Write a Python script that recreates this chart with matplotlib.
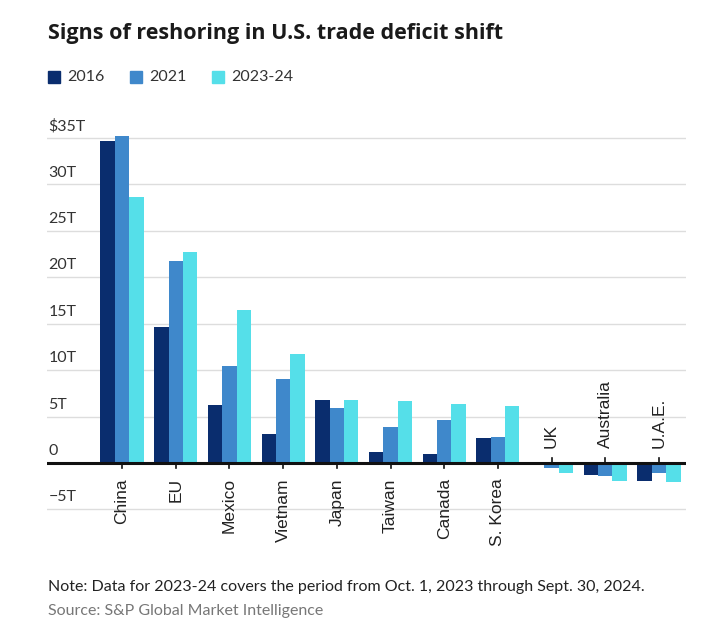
import matplotlib
matplotlib.use("Agg")
import matplotlib.pyplot as plt
import numpy as np

categories = ["China", "EU", "Mexico", "Vietnam", "Japan", "Taiwan", "Canada",
              "S. Korea", "UK", "Australia", "U.A.E."]
vals_2016 = [34.7, 14.6, 6.2, 3.1, 6.8, 1.2, 1.0, 2.7, 0.0, -1.3, -2.0]
vals_2021 = [35.2, 21.7, 10.4, 9.0, 5.9, 3.9, 4.6, 2.8, -0.6, -1.4, -1.1]
vals_2324 = [28.6, 22.7, 16.5, 11.7, 6.8, 6.7, 6.4, 6.1, -1.1, -2.0, -2.1]
series_names = ["2016", "2021", "2023-24"]
y_ticks = [-5, 0, 5, 10, 15, 20, 25, 30, 35]
y_tick_labels = ["\u22125T", "0", "5T", "10T", "15T", "20T", "25T", "30T", "$35T"]

colors = ["#0a2d6e", "#3f88cb", "#55dfe9"]
txt = "#222222"
plt.rcParams["font.family"] = ["Lato", "DejaVu Sans"]

fig = plt.figure(figsize=(7.21, 6.37), dpi=100)
ax = fig.add_axes([47 / 721, 0.1931, 639 / 721, 0.6122])

x = np.arange(len(categories))
w = 0.268
for i, (vals, name) in enumerate(zip([vals_2016, vals_2021, vals_2324], series_names)):
    ax.bar(x + (i - 1) * w, vals, width=w, color=colors[i], zorder=2)

# gridlines + y labels
for v, lab in zip(y_ticks, y_tick_labels):
    if v == 0:
        ax.axhline(0, color="#111111", lw=2.2, zorder=3)
    else:
        ax.axhline(v, color="#dddddd", lw=1, zorder=1)
    ax.annotate(lab, xy=(0, v), xycoords=("axes fraction", "data"),
                xytext=(1, 3.5), textcoords="offset points",
                ha="left", va="bottom", fontsize=11.5, color="#333333")

# category labels and ticks
for xi, c, a, b, d in zip(x, categories, vals_2016, vals_2021, vals_2324):
    neg = max(a, b, d) <= 0
    sgn = 1 if neg else -1
    ax.plot([xi, xi], [0, sgn * 0.55], color="#111111", lw=1.2, zorder=3)
    ax.annotate(c, xy=(xi, 0), xytext=(0, sgn * 11), textcoords="offset points",
                rotation=90, ha="center", va="bottom" if neg else "top",
                fontsize=12.5, color=txt, family="Liberation Sans")

ax.set_xlim(-1.397, 10.503)
ax.set_ylim(-5.5, 36.5)
ax.axis("off")

# title
fig.text(48 / 721, 1 - 33 / 637, "Signs of reshoring in U.S. trade deficit shift",
         fontsize=15.5, fontweight="bold", color="#1a1a1a", va="center", ha="left",
         family=["Open Sans", "DejaVu Sans"])

# legend
leg_x = [48, 130, 212]
for lx, name, col in zip(leg_x, series_names, colors):
    fig.patches.append(plt.Rectangle((lx / 721, 1 - 83 / 637), 12 / 721, 12 / 637,
                                     transform=fig.transFigure, color=col))
    fig.text((lx + 19) / 721, 1 - 77 / 637, name, fontsize=11.5, color="#333333",
             va="center", ha="left")

fig.text(48 / 721, 1 - 587 / 637,
         "Note: Data for 2023-24 covers the period from Oct. 1, 2023 through Sept. 30, 2024.",
         fontsize=11.5, color=txt, va="center", ha="left")
fig.text(48 / 721, 1 - 611 / 637, "Source: S&P Global Market Intelligence",
         fontsize=11.5, color="#777777", va="center", ha="left")

fig.savefig("out.png", dpi=100)
